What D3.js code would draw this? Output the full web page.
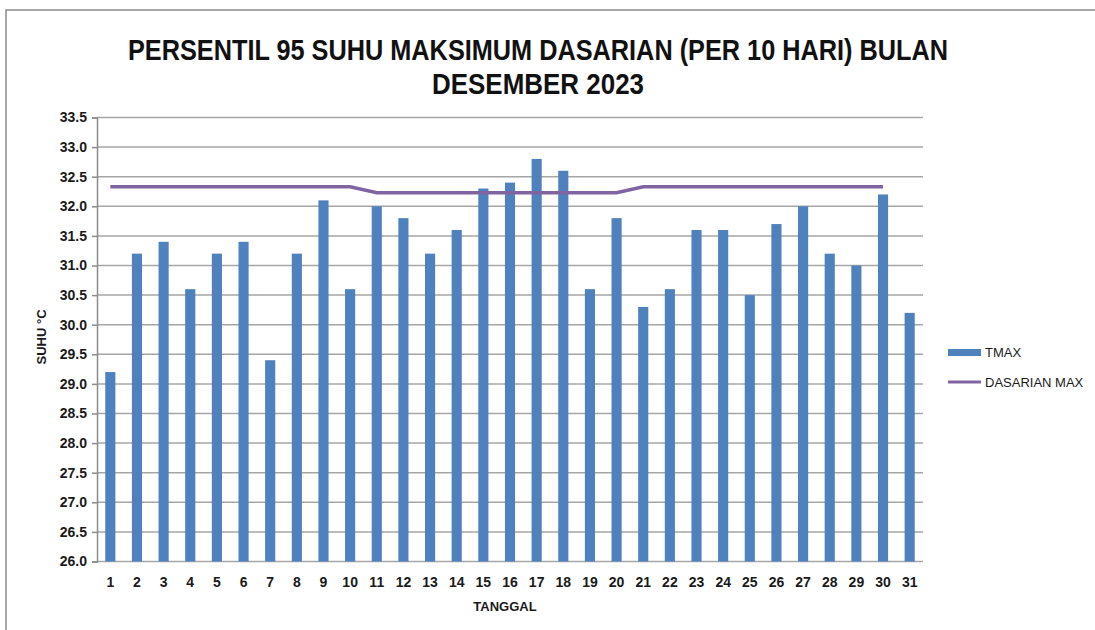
<!DOCTYPE html>
<html>
<head>
<meta charset="utf-8">
<script src="https://cdn.jsdelivr.net/npm/d3@7"></script>
<style>
  body { margin: 0; background: #fff; }
  text { font-family: "Liberation Sans", Arial, sans-serif; }
</style>
</head>
<body>
<svg id="chart"></svg>
<script>
// data
var days = d3.range(1, 32).map(String)
var tmax = [29.2, 31.2, 31.4, 30.6, 31.2, 31.4, 29.4, 31.2, 32.1, 30.6,
            32.0, 31.8, 31.2, 31.6, 32.3, 32.4, 32.8, 32.6, 30.6, 31.8,
            30.3, 30.6, 31.6, 31.6, 30.5, 31.7, 32.0, 31.2, 31.0, 32.2, 30.2]
// dasarian max: one value per 10 days, drawn for day 1..30
var dasarianMax = [32.33, 32.33, 32.33, 32.33, 32.33, 32.33, 32.33, 32.33, 32.33, 32.33,
                   32.23, 32.23, 32.23, 32.23, 32.23, 32.23, 32.23, 32.23, 32.23, 32.23,
                   32.33, 32.33, 32.33, 32.33, 32.33, 32.33, 32.33, 32.33, 32.33, 32.33]
var yTicks = d3.range(26, 33.51, 0.5)
var titleLines = ["PERSENTIL 95 SUHU MAKSIMUM DASARIAN (PER 10 HARI) BULAN", "DESEMBER 2023"]

var W = 1095, H = 630
var margin = {left: 97, right: 172, top: 117.5, bottom: 68.5}

var svg = d3.select("#chart").attr("width", W).attr("height", H)

// outer frame
svg.append("rect")
    .attr("x", 6).attr("y", 10)
    .attr("width", W).attr("height", H)
    .attr("fill", "none")
    .attr("stroke", "#8c8c8c")
    .attr("stroke-width", 1.5)

var x = d3.scaleBand()
    .domain(days)
    .range([margin.left, W - margin.right])
    .paddingInner(0.62)
    .paddingOuter(0.31)

var y = d3.scaleLinear()
    .domain([26, 33.5])
    .range([H - margin.bottom, margin.top])

// gridlines
svg.append("g")
    .selectAll("line")
    .data(yTicks)
    .enter().append("line")
    .attr("x1", margin.left)
    .attr("x2", W - margin.right)
    .attr("y1", d => y(d))
    .attr("y2", d => y(d))
    .attr("stroke", "#a6a6a6")
    .attr("stroke-width", 1.5)

// bars
svg.append("g")
    .selectAll("rect")
    .data(tmax)
    .enter().append("rect")
    .attr("x", (d, i) => x(days[i]))
    .attr("y", d => y(d))
    .attr("width", x.bandwidth())
    .attr("height", d => y(26) - y(d))
    .attr("fill", "#4f81bd")

// dasarian line
var line = d3.line()
    .x((d, i) => x(days[i]) + x.bandwidth() / 2)
    .y(d => y(d))

svg.append("path")
    .datum(dasarianMax)
    .attr("d", line)
    .attr("fill", "none")
    .attr("stroke", "#8064a2")
    .attr("stroke-width", 3.5)

// y axis
var yAxis = svg.append("g")
    .attr("transform", "translate(" + margin.left + ",0)")
    .call(d3.axisLeft(y).tickValues(yTicks).tickFormat(d3.format(".1f")).tickSizeOuter(0).tickSize(5).tickPadding(5))
yAxis.select(".domain").attr("stroke", "#8c8c8c").attr("stroke-width", 1.5)
yAxis.selectAll(".tick line").attr("stroke", "#8c8c8c").attr("stroke-width", 1.5)
yAxis.selectAll("text")
    .attr("fill", "#1a1a1a")
    .style("font-size", "14px")
    .style("font-weight", "bold")

// x axis labels
var xAxis = svg.append("g")
    .attr("transform", "translate(0," + (H - margin.bottom) + ")")
    .call(d3.axisBottom(x).tickSize(0).tickPadding(16))
xAxis.select(".domain").remove()
xAxis.selectAll("text")
    .attr("fill", "#1a1a1a")
    .style("font-size", "14px")
    .style("font-weight", "bold")

// axis titles
svg.append("text")
    .attr("x", (margin.left + W - margin.right) / 2 - 5)
    .attr("y", 611)
    .attr("text-anchor", "middle")
    .style("font-size", "13px")
    .style("font-weight", "bold")
    .attr("fill", "#1a1a1a")
    .text("TANGGAL")

svg.append("text")
    .attr("transform", "translate(46,337) rotate(-90)")
    .attr("text-anchor", "middle")
    .style("font-size", "13px")
    .style("font-weight", "bold")
    .attr("fill", "#1a1a1a")
    .text("SUHU °C")

// title
var titleWidths = [820, 212]
svg.append("g")
    .selectAll("text")
    .data(titleLines)
    .enter().append("text")
    .attr("x", (d, i) => 538 - titleWidths[i] / 2)
    .attr("y", (d, i) => 60 + i * 34)
    .attr("textLength", (d, i) => titleWidths[i])
    .attr("lengthAdjust", "spacingAndGlyphs")
    .style("font-size", "29px")
    .style("font-weight", "bold")
    .attr("fill", "#111")
    .text(d => d)

// legend
var legend = svg.append("g").attr("transform", "translate(948,0)")
legend.append("rect")
    .attr("x", 0).attr("y", 349)
    .attr("width", 33).attr("height", 7)
    .attr("fill", "#4f81bd")
legend.append("text")
    .attr("x", 37).attr("y", 357)
    .style("font-size", "13px")
    .attr("fill", "#1a1a1a")
    .text("TMAX")
legend.append("line")
    .attr("x1", 0).attr("x2", 33)
    .attr("y1", 382).attr("y2", 382)
    .attr("stroke", "#8064a2")
    .attr("stroke-width", 3)
legend.append("text")
    .attr("x", 37).attr("y", 387)
    .style("font-size", "13px")
    .attr("fill", "#1a1a1a")
    .text("DASARIAN MAX")
</script>
</body>
</html>
